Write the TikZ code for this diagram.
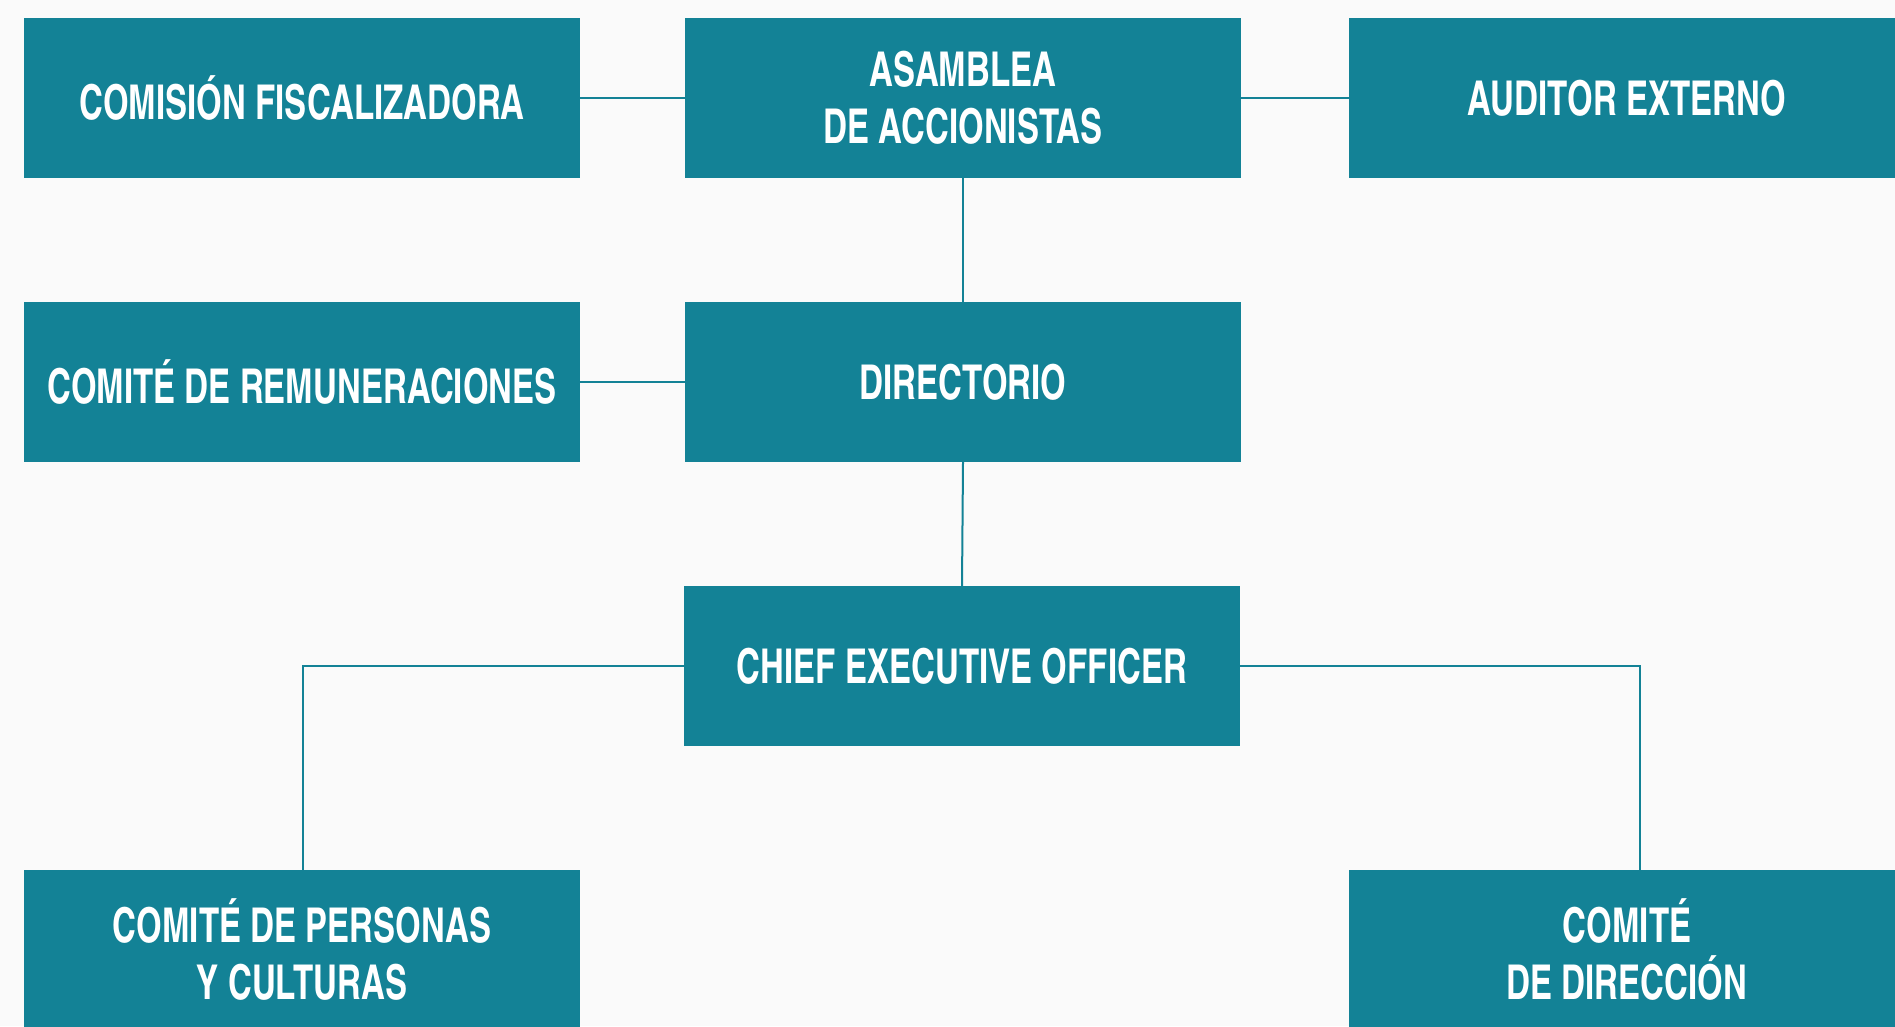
\documentclass[tikz,border=0pt]{standalone}
\usepackage{fontspec}
\setmainfont{texgyreheroscn-bold.otf}[FakeStretch=0.84]
\usetikzlibrary{calc}
\definecolor{teal1}{RGB}{19,130,150}
\definecolor{bg}{RGB}{250,250,250}
\begin{document}
\begin{tikzpicture}[x=1pt,y=-1pt,
  orgbox/.style={fill=teal1,text=white,minimum width=556pt,minimum height=160pt,inner sep=0pt,align=center,font=\fontsize{48}{57}\selectfont},
  link/.style={draw=teal1,line width=2pt}]
\useasboundingbox (0,0) rectangle (1895,1026);
\clip (0,0) rectangle (1895,1026);
\fill[bg] (0,0) rectangle (1895,1026);
\node[orgbox] (com) at (302,98) {COMISIÓN FISCALIZADORA};
\node[orgbox] (asa) at (963,98) {ASAMBLEA\\DE ACCIONISTAS};
\node[orgbox] (aud) at (1627,98) {AUDITOR EXTERNO};
\node[orgbox] (rem) at (302,382) {COMITÉ DE REMUNERACIONES};
\node[orgbox] (dir) at (963,382) {DIRECTORIO};
\node[orgbox] (ceo) at (962,666) {CHIEF EXECUTIVE OFFICER};
\node[orgbox] (per) at (302,950) {COMITÉ DE PERSONAS\\Y CULTURAS};
\node[orgbox] (cdd) at (1627,950) {COMITÉ\\DE DIRECCIÓN};
\coordinate (cddtop) at ([xshift=13pt]cdd.north);
\coordinate (pertop) at ([xshift=1pt]per.north);
\draw[link] (com.east) -- (asa.west);
\draw[link] (asa.east) -- (aud.west);
\draw[link] (asa.south) -- (dir.north);
\draw[link] (rem.east) -- (dir.west);
\draw[link] (dir.south) -- (ceo.north);
\draw[link] (ceo.west) -| (pertop);
\draw[link] (ceo.east) -| (cddtop);
\end{tikzpicture}
\end{document}
